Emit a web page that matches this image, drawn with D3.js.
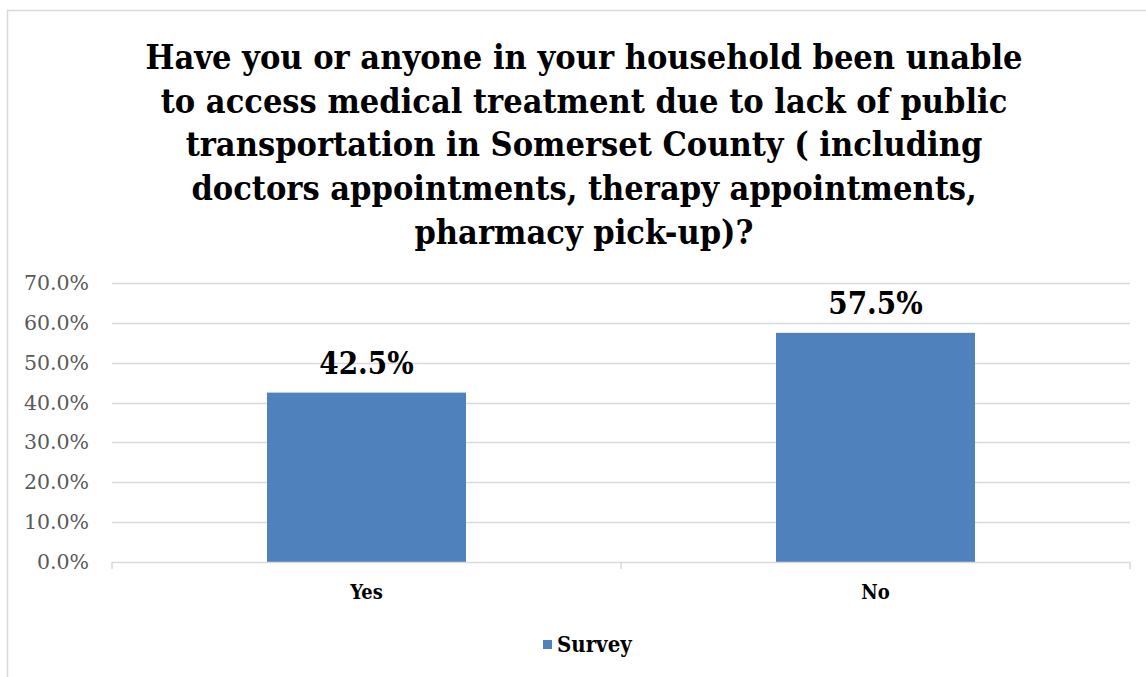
<!DOCTYPE html>
<html>
<head>
<meta charset="utf-8">
<script src="https://cdn.jsdelivr.net/npm/d3@7"></script>
<style>
  html, body { margin: 0; padding: 0; background: #fff; }
  svg { display: block; }
</style>
</head>
<body>
<svg id="chart" width="1146" height="677"></svg>
<script>
// Survey results
const categories = ["Yes", "No"];
const values = [42.5, 57.5];
const seriesName = "Survey";
const yTicks = [0, 10, 20, 30, 40, 50, 60, 70];
const titleLines = [
  "Have you or anyone in your household been unable",
  "to access medical treatment due to lack of public",
  "transportation in Somerset County ( including",
  "doctors appointments, therapy appointments,",
  "pharmacy pick-up)?"
];

const serif = "'DejaVu Serif Condensed', 'DejaVu Serif', serif";
const serifWide = "'DejaVu Serif', serif";
const barColor = "#4f81bd";
const gridColor = "#d9d9d9";

const svg = d3.select("#chart");

// Outer chart frame (extends past the right/bottom edge)
svg.append("rect")
  .attr("x", 7.5).attr("y", 10.5)
  .attr("width", 1160).attr("height", 700)
  .attr("fill", "#fff")
  .attr("stroke", gridColor).attr("stroke-width", 1.5);

const plot = { left: 112, right: 1130, top: 283, bottom: 562 };

const x = d3.scaleBand()
  .domain(categories)
  .range([plot.left, plot.right])
  .paddingInner(0.609)
  .paddingOuter(0.3045);

const y = d3.scaleLinear()
  .domain([0, 70])
  .range([plot.bottom, plot.top]);

// Title
const title = svg.append("text")
  .attr("text-anchor", "middle")
  .attr("font-family", serif)
  .attr("font-weight", "bold")
  .attr("font-size", 34)
  .attr("fill", "#000");
titleLines.forEach((line, i) => {
  title.append("tspan")
    .attr("x", 584)
    .attr("y", 69 + i * 43.7)
    .text(line);
});

// Gridlines
svg.append("g")
  .selectAll("line")
  .data(yTicks.filter(d => d > 0))
  .join("line")
  .attr("x1", plot.left).attr("x2", plot.right)
  .attr("y1", d => Math.round(y(d)) + 0.5)
  .attr("y2", d => Math.round(y(d)) + 0.5)
  .attr("stroke", gridColor).attr("stroke-width", 1.5);

// Y axis labels
const yAxis = d3.axisLeft(y)
  .tickValues(yTicks)
  .tickSize(0)
  .tickPadding(0)
  .tickFormat(d => d3.format(".1f")(d) + "%");
const yg = svg.append("g")
  .attr("transform", `translate(${plot.left - 23},0)`)
  .call(yAxis);
yg.select(".domain").remove();
yg.selectAll("text")
  .attr("font-family", serifWide)
  .attr("font-size", 20.5)
  .attr("fill", "#595959");

// Bars
svg.append("g")
  .selectAll("rect")
  .data(values)
  .join("rect")
  .attr("x", (d, i) => x(categories[i]))
  .attr("width", x.bandwidth())
  .attr("y", d => y(d))
  .attr("height", d => y(0) - y(d))
  .attr("fill", barColor);

// Value labels
svg.append("g")
  .selectAll("text")
  .data(values)
  .join("text")
  .attr("x", (d, i) => x(categories[i]) + x.bandwidth() / 2)
  .attr("y", d => y(d) - 19)
  .attr("text-anchor", "middle")
  .attr("font-family", serif)
  .attr("font-weight", "bold")
  .attr("font-size", 31)
  .attr("fill", "#000")
  .text(d => d.toFixed(1) + "%");

// X axis baseline with category boundary ticks
const step = x.step();
const boundaries = d3.range(categories.length + 1).map(i => plot.left + i * step);
const xg = svg.append("g");
xg.append("line")
  .attr("x1", plot.left).attr("x2", plot.right)
  .attr("y1", plot.bottom + 0.5).attr("y2", plot.bottom + 0.5)
  .attr("stroke", gridColor).attr("stroke-width", 1.5);
xg.selectAll("line.tick")
  .data(boundaries)
  .join("line")
  .attr("class", "tick")
  .attr("x1", d => d).attr("x2", d => d)
  .attr("y1", plot.bottom).attr("y2", plot.bottom + 7)
  .attr("stroke", gridColor).attr("stroke-width", 1.5);

// Category labels
xg.selectAll("text")
  .data(categories)
  .join("text")
  .attr("x", d => x(d) + x.bandwidth() / 2)
  .attr("y", 599)
  .attr("text-anchor", "middle")
  .attr("font-family", serif)
  .attr("font-weight", "bold")
  .attr("font-size", 20)
  .attr("fill", "#000")
  .text(d => d);

// Legend
const legend = svg.append("g").attr("transform", "translate(543,640)");
legend.append("rect")
  .attr("width", 9).attr("height", 9)
  .attr("fill", barColor);
legend.append("text")
  .attr("x", 14).attr("y", 12)
  .attr("font-family", serif)
  .attr("font-weight", "bold")
  .attr("font-size", 22)
  .attr("fill", "#000")
  .text(seriesName);
</script>
</body>
</html>
